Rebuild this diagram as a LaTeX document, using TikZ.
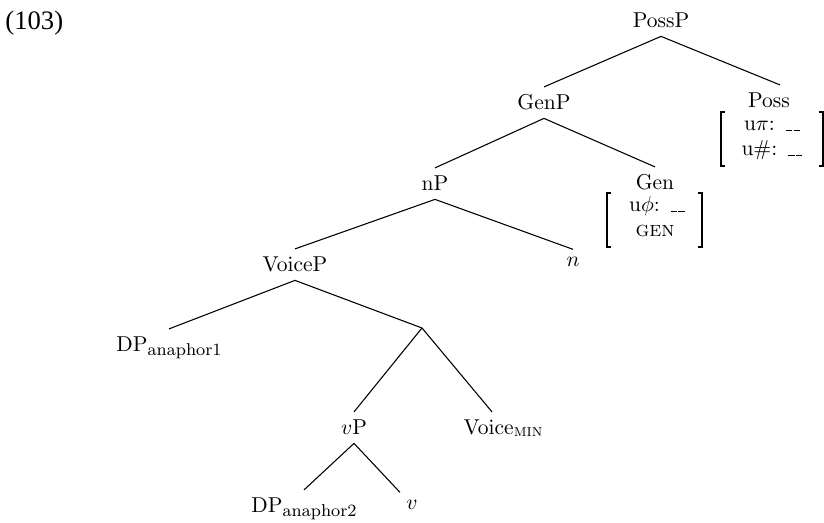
\documentclass[tikz,border=0pt]{standalone}
\usepackage[no-math]{fontspec}
\newfontfamily\exfont{Liberation Serif}
\newcommand\cmfont{\fontencoding{OT1}\fontfamily{cmr}\fontsize{10}{12}\selectfont}
\newcommand\lowsub[1]{\raisebox{-1.8pt}{\fontsize{8}{9}\selectfont #1}}
\begin{document}
\begin{tikzpicture}[x=0.465pt,y=-0.465pt,
  lab/.style={anchor=base,inner xsep=0pt,inner ysep=3.7pt,font=\cmfont},
  feat/.style={anchor=base,inner sep=0pt,font=\cmfont},
  edge/.style={line width=0.5pt},
  brk/.style={line width=0.5pt}]
\useasboundingbox (0,0) rectangle (824,523);
% example number
\node[anchor=base west,inner sep=0pt,font=\exfont\fontsize{12.4}{14}\selectfont] (ex) at (5,30) {(103)};
% tree nodes
\node[lab] (possp) at (661,28) {PossP};
\node[lab] (genp) at (544,110) {GenP};
\node[lab] (poss) at (769,108) {Poss};
\node[lab] (np) at (435,191) {nP};
\node[lab] (gen) at (655,190) {Gen};
\node[lab] (voicep) at (295,272) {VoiceP};
\node[lab] (n) at (573,267) {$n$};
\node[lab] (dpa) at (169,352) {DP\lowsub{anaphor1}};
\coordinate (x) at (422,328);
\node[lab] (vp) at (354,435) {$v$P};
\node[lab] (vmin) at (503,435) {Voice\raisebox{-0.9pt}{\fontsize{8}{9}\selectfont\textsc{min}}};
\node[lab] (dpb) at (304,513) {DP\lowsub{anaphor2}};
\node[lab] (v) at (412,510) {$v$};
% feature matrices
\node[feat] (genf1) at (657,212) {u$\phi$: \_\_};
\node[feat] (genf2) at (655,237) {\textsc{gen}};
\node[feat] (possf1) at (772,131) {u$\pi$: \_\_};
\node[feat] (possf2) at (772,156) {u\#: \_\_};
\draw[brk] (611,193) -- (607,193) -- (607,247) -- (611,247);
\draw[brk] (698,193) -- (702,193) -- (702,247) -- (698,247);
\draw[brk] (725,112) -- (721,112) -- (721,166) -- (725,166);
\draw[brk] (819,112) -- (823,112) -- (823,166) -- (819,166);
% edges
\draw[edge] (possp.south) -- (genp.north);
\draw[edge] (possp.south) -- ([xshift=5.1pt]poss.north);
\draw[edge] (genp.south) -- (np.north);
\draw[edge] (genp.south) -- (gen.north);
\draw[edge] (np.south) -- (voicep.north);
\draw[edge] (np.south) -- (n.north);
\draw[edge] (voicep.south) -- (dpa.north);
\draw[edge] (voicep.south) -- (x);
\draw[edge] (x) -- (vp.north);
\draw[edge] (x) -- ([xshift=-5.1pt]vmin.north);
\draw[edge] (vp.south) -- (dpb.north);
\draw[edge] (vp.south) -- ([xshift=-5.6pt]v.north);
\end{tikzpicture}
\end{document}
